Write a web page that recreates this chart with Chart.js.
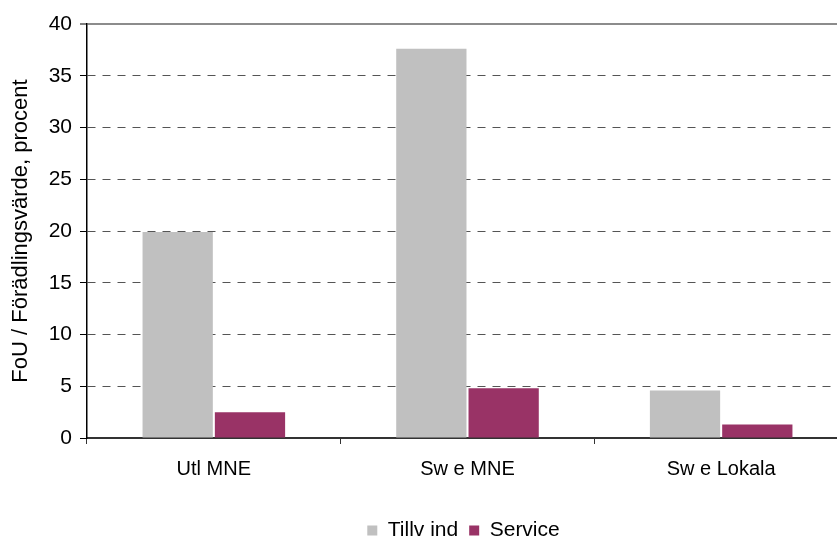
<!DOCTYPE html>
<html lang="sv">
<head>
<meta charset="utf-8">
<title>FoU / Förädlingsvärde</title>
<script src="https://cdn.jsdelivr.net/npm/chart.js@4/dist/chart.umd.min.js"></script>
<style>
  html, body { margin: 0; padding: 0; background: #fff; overflow: hidden; }
  #wrap { width: 850px; height: 560px; }
</style>
</head>
<body>
<div id="wrap"><canvas id="c" width="850" height="560"></canvas></div>
<script>
// Företagskategorier längs x-axeln
const categories = ['Utl MNE', 'Sw e MNE', 'Sw e Lokala'];
// FoU som andel av förädlingsvärdet, procent
const tillvInd = [19.9, 37.6, 4.6];
const service = [2.5, 4.8, 1.3];
const seriesNames = ['Tillv ind', 'Service'];
const yTicks = [0, 5, 10, 15, 20, 25, 30, 35, 40];

const FONT = "'Liberation Sans', Arial, sans-serif";

// Centre the legend under the plot area instead of the whole canvas
const legendUnderPlot = {
  id: 'legendUnderPlot',
  afterLayout(chart) {
    const lg = chart.legend, ca = chart.chartArea;
    if (!lg || !ca) return;
    const shift = (ca.left + ca.right) / 2 - (lg.left + lg.right) / 2 - 4;
    lg.left += shift;
    lg.right += shift;
  }
};

new Chart(document.getElementById('c'), {
  type: 'bar',
  data: {
    labels: categories,
    datasets: [
      { label: seriesNames[0], data: tillvInd, backgroundColor: '#C0C0C0' },
      { label: seriesNames[1], data: service, backgroundColor: '#993366' }
    ]
  },
  options: {
    responsive: false,
    animation: false,
    devicePixelRatio: 1,
    layout: { padding: { top: 24, right: 2, bottom: 9, left: 0 } },
    datasets: {
      bar: { categoryPercentage: 0.57, barPercentage: 0.972 }
    },
    plugins: {
      tooltip: { enabled: false },
      legend: {
        position: 'bottom',
        labels: {
          boxWidth: 10,
          boxHeight: 10,
          padding: 11,
          color: '#000',
          font: { family: FONT, size: 21 }
        }
      }
    },
    scales: {
      x: {
        z: 1,
        offset: true,
        grid: {
          offset: true,
          drawOnChartArea: false,
          tickLength: 6,
          tickColor: '#333',
          tickWidth: 1
        },
        border: { color: '#333', width: 2 },
        ticks: {
          color: '#000',
          padding: 13,
          maxRotation: 0,
          font: { family: FONT, size: 20 }
        },
        afterFit(scale) { scale.height = 71; }
      },
      y: {
        min: 0,
        max: 40,
        afterBuildTicks(scale) { scale.ticks = yTicks.map(v => ({ value: v })); },
        grid: {
          color: ctx => ctx.tick.value === 0 ? 'rgba(0,0,0,0)' : (ctx.tick.value === 40 ? '#8c8c8c' : '#555'),
          lineWidth: ctx => ctx.tick.value === 40 ? 2 : 1,
          tickLength: 7,
          tickColor: '#000',
          tickWidth: 1
        },
        border: {
          color: '#000',
          width: 1.5,
          dash: ctx => (ctx.tick && ctx.tick.value === 40) ? [] : [8, 7]
        },
        ticks: {
          color: '#000',
          padding: 8,
          font: { family: FONT, size: 21 }
        },
        title: {
          display: true,
          text: 'FoU / Förädlingsvärde, procent',
          color: '#000',
          padding: { top: 8, bottom: 0 },
          font: { family: FONT, size: 22 }
        },
        afterFit(scale) { scale.width = 87; }
      }
    }
  },
  plugins: [legendUnderPlot]
});
</script>
</body>
</html>
